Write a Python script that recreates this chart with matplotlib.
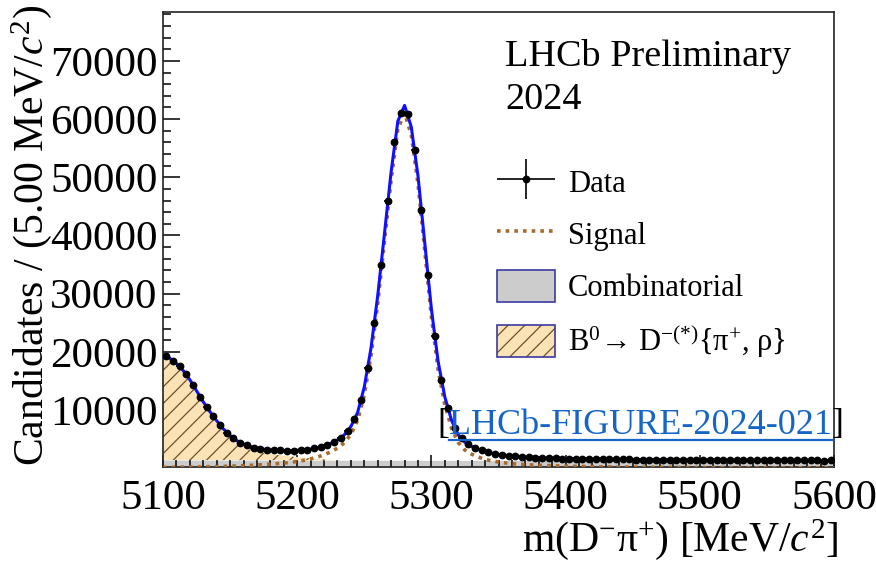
import numpy as np
import matplotlib
matplotlib.use("Agg")
import matplotlib.pyplot as plt
from matplotlib.patches import Patch
from matplotlib.lines import Line2D
from matplotlib.legend_handler import HandlerErrorbar, HandlerTuple

plt.rcParams['font.family'] = ['Liberation Serif', 'DejaVu Serif']
plt.rcParams['mathtext.fontset'] = 'custom'
plt.rcParams['mathtext.rm'] = 'Liberation Serif'
plt.rcParams['mathtext.it'] = 'Liberation Serif:italic'
plt.rcParams['mathtext.bf'] = 'Liberation Serif:bold'
plt.rcParams['hatch.linewidth'] = 0.9

# data: 5 MeV bins, centres 5102.5 ... 5597.5
mass = np.arange(5102.5, 5600, 5.0)
counts = np.array([
    19300, 18500, 17500, 16100, 14300, 12300, 10500, 8900, 7400, 6100,
    5100, 4400, 3900, 3550, 3350, 3200, 3100, 3050, 3020, 3030,
    3100, 3200, 3380, 3620, 4000, 4500, 5150, 6400, 8400, 11700,
    17300, 25000, 34900, 45900, 56100, 61100, 60900, 54700, 44300, 33200,
    22700, 15200, 10300, 6900, 5200, 4200, 3500, 3100, 2750, 2450,
    2280, 2120, 2030, 1940,
    1890, 1830, 1760, 1750, 1700, 1650, 1640, 1600, 1610, 1560,
    1570, 1530, 1540, 1510, 1490, 1500, 1470, 1480, 1450, 1460,
    1440, 1430, 1440, 1410, 1420, 1400, 1410, 1390, 1400, 1380,
    1390, 1370, 1380, 1360, 1370, 1350, 1360, 1340, 1350, 1340,
    1330, 1340, 1320, 1330, 1310, 1320])

# fit components on a 5 MeV grid 5100 ... 5600
fit_mass = np.arange(5100, 5600.1, 5.0)
signal = np.array([
    140, 150, 162, 175, 190, 208, 228, 250, 275, 305,
    340, 380, 425, 480, 540, 610, 690, 780, 880, 1000,
    1150, 1350, 1600, 1900, 2300, 2800, 3450, 4350,
    5800, 8200, 12600, 19300, 28300, 38900, 49600, 58300, 61000, 57300,
    48900, 37500, 26000, 17000, 10900, 6900, 4400, 3100, 2400, 1900,
    1500, 1250, 1050, 900, 780, 690, 610, 550, 500, 455, 415, 380,
    350, 322, 298, 277, 259, 243, 229, 216, 204, 193,
    183, 174, 166, 158, 151, 144, 138, 132, 127, 122,
    117, 112, 108, 104, 100, 97, 94, 91, 88, 85,
    82, 80, 78, 76, 74, 72, 70, 68, 66, 64,
    62])
combinatorial = np.array([
    1400, 1398, 1397, 1395, 1394, 1392, 1391, 1389, 1388, 1386,
    1385, 1383, 1382, 1380, 1379, 1377, 1376, 1374, 1373, 1371,
    1370, 1368, 1367, 1365, 1364, 1362, 1361, 1359, 1358, 1356,
    1355, 1353, 1352, 1350, 1349, 1347, 1346, 1344, 1343, 1341,
    1340, 1338, 1337, 1335, 1334, 1332, 1331, 1329, 1328, 1326,
    1325, 1323, 1322, 1320, 1319, 1317, 1316, 1314, 1313, 1311,
    1310, 1308, 1307, 1305, 1304, 1302, 1301, 1299, 1298, 1296,
    1295, 1293, 1292, 1290, 1289, 1287, 1286, 1284, 1283, 1281,
    1280, 1278, 1277, 1275, 1274, 1272, 1271, 1269, 1268, 1266,
    1265, 1263, 1262, 1260, 1259, 1257, 1256, 1254, 1253, 1251,
    1250])
partreco = np.array([
    17960, 17350, 16440, 15220, 13620, 11700, 9780, 8060, 6490, 5060,
    3870, 2980, 2340, 1860, 1520, 1280, 1080, 910, 780, 650,
    540, 420, 310, 220, 140, 70, 30] + [0] * 74)

total = signal + combinatorial + partreco
ymin, ymax = 200, 78400

fill_grey = '#cccccc'
fill_orange = '#fbe3b5'
hatch_brown = '#6e5030'
signal_brown = '#a86a2c'
box_blue = '#3a3aa0'

fig = plt.figure(figsize=(8.76, 5.61), dpi=100)
ax = fig.add_axes([163/876, 1 - 467/561, 671/876, 455/561])

ax.fill_between(fit_mass, ymin, combinatorial, color=fill_grey, lw=0, zorder=1)
ax.fill_between(fit_mass, combinatorial, combinatorial + partreco,
                facecolor=fill_orange, edgecolor=hatch_brown, hatch='//', lw=0, zorder=2)
ax.plot(fit_mass, signal, color=signal_brown, lw=2.6, ls=(0, (1, 1.4)), zorder=3)
ax.plot(fit_mass, total, color='#1010ff', lw=2.2, zorder=4)
eb = ax.errorbar(mass, counts, xerr=2.5, yerr=np.sqrt(counts), fmt='o', ms=4.6,
                 color='black', elinewidth=1.2, capsize=0, zorder=5)

ax.set_xlim(5100, 5600)
ax.set_ylim(ymin, ymax)
ax.set_xticks([5100, 5200, 5300, 5400, 5500, 5600])
ax.set_yticks([10000, 20000, 30000, 40000, 50000, 60000, 70000])
ax.xaxis.set_minor_locator(plt.MultipleLocator(10))
ax.yaxis.set_minor_locator(plt.MultipleLocator(2000))
ax.tick_params(axis='both', which='both', direction='in', top=False, right=False,
               labelsize=31, width=1.1)
ax.tick_params(axis='y', which='major', length=12, pad=4)
ax.tick_params(axis='y', which='minor', length=6)
ax.tick_params(axis='x', which='major', length=9, pad=9)
ax.tick_params(axis='x', which='minor', length=5)
for s in ax.spines.values():
    s.set_linewidth(1.2)
    s.set_color('#222222')

fig.text(32/876, 1 - 5/561, r"Candidates / (5.00 MeV/$c^{2}$)", rotation=90,
         ha='center', va='top', fontsize=30)
fig.text(838/876, 1 - 540/561, r"m($\mathrm{D}^{-}\mathrm{π}^{+}$) [MeV/$c^{2}$]",
         ha='right', va='center', fontsize=30)

fig.text(505/876, 1 - 57/561, "LHCb Preliminary", ha='left', va='center', fontsize=27.5)
fig.text(505/876, 1 - 100/561, "2024", ha='left', va='center', fontsize=27.5)

# legend: hatch in brown, box outline in blue
comb_box = Patch(facecolor=fill_grey, edgecolor=box_blue, lw=1.2)
pr_fill = Patch(facecolor=fill_orange, edgecolor=hatch_brown, hatch='//', lw=0)
pr_edge = Patch(facecolor='none', edgecolor=box_blue, lw=1.2)
handles = [eb,
           Line2D([], [], color=signal_brown, lw=2.6, ls=(0, (1, 1.4))),
           comb_box,
           (pr_fill, pr_edge)]
labels = ["Data", "Signal", "Combinatorial",
          r"$\mathrm{B}^{0}$→ $\mathrm{D}^{-(*)}${$\mathrm{π}^{+}$, ρ}"]
leg = ax.legend(handles, labels, loc='upper left',
                bbox_to_anchor=((497 - 163)/671, (467 - 166)/455),
                frameon=False, fontsize=22, borderpad=0, borderaxespad=0,
                handlelength=1.9, handleheight=1.2, handletextpad=0.42,
                labelspacing=0.63,
                handler_map={type(eb): HandlerErrorbar(xerr_size=0.95, yerr_size=0.65),
                             tuple: HandlerTuple(ndivide=1, pad=0)})

# [LHCb-FIGURE-2024-021] reference tag with underlined link
fig.canvas.draw()
r = fig.canvas.get_renderer()
t1 = fig.text(437/876, 1 - 425/561, "[", ha='left', va='center', fontsize=26)
fig.canvas.draw()
x = t1.get_window_extent(r).x1
t2 = fig.text(x/876, 1 - 425/561, "LHCb-FIGURE-2024-021", ha='left', va='center',
              fontsize=26, color='#1565c8')
fig.canvas.draw()
e2 = t2.get_window_extent(r)
fig.text(e2.x1/876, 1 - 425/561, "]", ha='left', va='center', fontsize=26)
fig.add_artist(Line2D([e2.x0/876, e2.x1/876], [1 - 440/561, 1 - 440/561],
                      transform=fig.transFigure, color='#1565c8', lw=1.6))

fig.savefig('out.png', dpi=100)
